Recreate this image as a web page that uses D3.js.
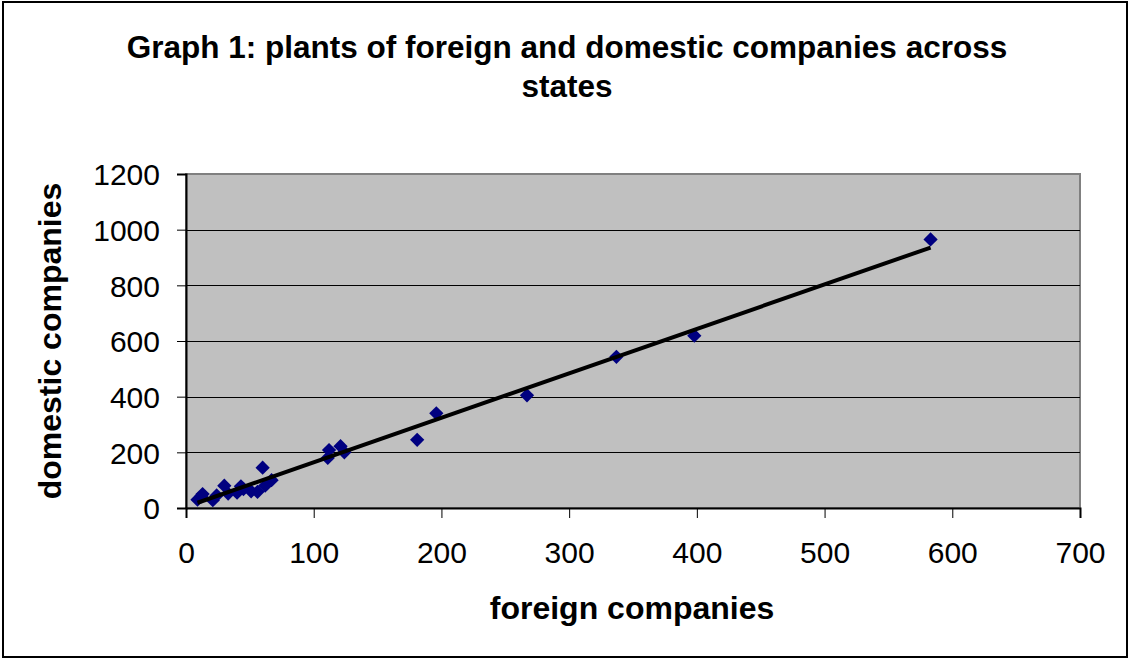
<!DOCTYPE html>
<html>
<head>
<meta charset="utf-8">
<script src="https://cdn.jsdelivr.net/npm/d3@7"></script>
<style>
  html, body { margin: 0; padding: 0; background: #fff; }
  svg { display: block; font-family: "Liberation Sans", Arial, sans-serif; }
</style>
</head>
<body>
<svg id="chart" width="1130" height="659"></svg>
<script>
// Plants per state: foreign-owned vs domestic companies
const foreign  = [9, 13, 12, 21, 24, 30, 33, 40, 43, 45, 51, 56, 60, 62, 67,
                  111, 112, 121, 124, 181, 196, 267, 337, 398, 583];
const domestic = [30, 50, 42, 28, 45, 80, 52, 55, 78, 68, 60, 58, 145, 80, 100,
                  180, 208, 222, 200, 245, 340, 405, 543, 619, 965];
const xTicks = [0, 100, 200, 300, 400, 500, 600, 700];
const yTicks = [0, 200, 400, 600, 800, 1000, 1200];
const titleLines = ["Graph 1: plants of foreign and domestic companies across", "states"];
const xTitle = "foreign companies";
const yTitle = "domestic companies";

const svg = d3.select("#chart");
const W = 1130, H = 659;
const plot = { left: 186, right: 1080, top: 174, bottom: 508 };

// outer frame
svg.append("rect")
  .attr("x", 3).attr("y", 2).attr("width", W - 6).attr("height", H - 4)
  .attr("fill", "#fff").attr("stroke", "#000").attr("stroke-width", 2);

const x = d3.scaleLinear().domain([0, 700]).range([plot.left, plot.right]);
const y = d3.scaleLinear().domain([0, 1200]).range([plot.bottom, plot.top]);

// plot area
svg.append("rect")
  .attr("x", plot.left).attr("y", plot.top)
  .attr("width", plot.right - plot.left).attr("height", plot.bottom - plot.top)
  .attr("fill", "#c0c0c0").attr("stroke", "#808080").attr("stroke-width", 2);

// horizontal gridlines
svg.append("g").selectAll("line")
  .data(yTicks.filter(v => v > 0 && v < 1200))
  .join("line")
  .attr("x1", plot.left).attr("x2", plot.right)
  .attr("y1", d => Math.round(y(d)) + 0.5).attr("y2", d => Math.round(y(d)) + 0.5)
  .attr("stroke", "#000").attr("stroke-width", 1);

// axes
const xAxis = svg.append("g")
  .attr("transform", `translate(0,${plot.bottom})`)
  .call(d3.axisBottom(x).tickValues(xTicks).tickSize(10).tickPadding(24).tickFormat(d3.format("d")));
const yAxis = svg.append("g")
  .attr("transform", `translate(${plot.left},0)`)
  .call(d3.axisLeft(y).tickValues(yTicks).tickSize(9).tickPadding(17).tickFormat(d3.format("d")));

[xAxis, yAxis].forEach(g => {
  g.select(".domain").attr("stroke", "#000").attr("stroke-width", 2);
  g.selectAll(".tick line").attr("stroke", "#000").attr("stroke-width", 1);
  g.selectAll(".tick text")
    .attr("fill", "#000")
    .style("font-size", "30px")
    .style("font-family", "'Liberation Sans', Arial, sans-serif");
});
xAxis.selectAll(".tick text").attr("dy", "0.71em");
yAxis.selectAll(".tick text").attr("dy", "0.36em");

// linear trendline (least squares)
const n = foreign.length;
const mx = d3.mean(foreign), my = d3.mean(domestic);
let sxy = 0, sxx = 0;
for (let i = 0; i < n; i++) {
  sxy += (foreign[i] - mx) * (domestic[i] - my);
  sxx += (foreign[i] - mx) ** 2;
}
const slope = sxy / sxx;
const intercept = my - slope * mx;
const xMin = d3.min(foreign), xMax = d3.max(foreign);

// markers
const pts = foreign.map((f, i) => ({ f, d: domestic[i] }));
svg.append("g").selectAll("path")
  .data(pts)
  .join("path")
  .attr("d", d3.symbol(d3.symbolDiamond2 || d3.symbolDiamond, 130))
  .attr("transform", d => `translate(${x(d.f)},${y(d.d)})`)
  .attr("fill", "#000080");

svg.append("line")
  .attr("x1", x(xMin)).attr("y1", y(intercept + slope * xMin))
  .attr("x2", x(xMax)).attr("y2", y(intercept + slope * xMax))
  .attr("stroke", "#000").attr("stroke-width", 4);

// title
svg.append("text")
  .attr("x", 567).attr("y", 58)
  .attr("text-anchor", "middle")
  .style("font-size", "31.5px").style("font-weight", "bold")
  .selectAll("tspan")
  .data(titleLines)
  .join("tspan")
  .attr("x", 567)
  .attr("dy", (d, i) => i === 0 ? 0 : 39)
  .text(d => d);

// axis titles
svg.append("text")
  .attr("x", 632).attr("y", 619)
  .attr("text-anchor", "middle")
  .style("font-size", "32px").style("font-weight", "bold")
  .text(xTitle);

svg.append("text")
  .attr("transform", `translate(61,${(plot.top + plot.bottom) / 2}) rotate(-90)`)
  .attr("text-anchor", "middle")
  .style("font-size", "32px").style("font-weight", "bold")
  .text(yTitle);
</script>
</body>
</html>
